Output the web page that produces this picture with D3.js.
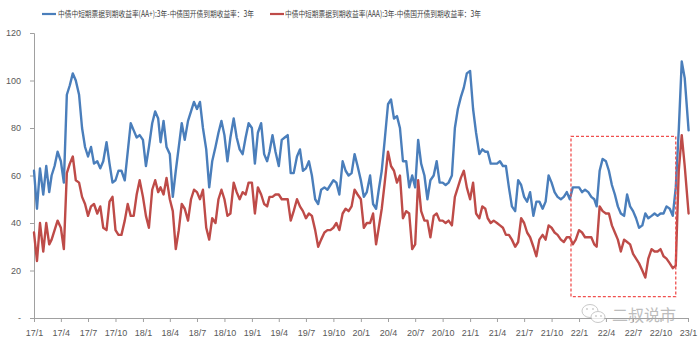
<!DOCTYPE html>
<html>
<head>
<meta charset="utf-8">
<script src="https://cdn.jsdelivr.net/npm/d3@7"></script>
<style>
  html, body { margin: 0; padding: 0; background: #fff; }
  svg { display: block; }
</style>
</head>
<body>
<svg id="chart" width="700" height="343"></svg>
<script>
// Spreads (bp): medium-term note 3Y yield minus CDB 3Y yield, sampled on days 1, 11, 21 of each month
const sampleDays = [1, 11, 21];
const firstYear = 2017;

const seriesNames = [
  "中债中短期票据到期收益率(AA+):3年-中债国开债到期收益率：3年",
  "中债中短期票据到期收益率(AAA):3年-中债国开债到期收益率：3年"
];

const spreadAAplus = [
  // 2017
  62,46,63, 52,64,53, 60,64,70, 66,57,94, 98,103,100, 94,80,72, 68,72,65, 66,63,66, 74,65,57, 58,62,62, 58,70,82, 79,76,77,
  // 2018
  75,64,72, 82,87,84, 74,83,72, 69,51,62, 72,82,75, 83,87,91, 88,91,80, 71,55,66, 72,78,83, 77,66,76, 84,76,71, 69,76,82,
  // 2019
  80,65,78, 82,69,66, 70,77,70, 64,75,76, 77,61,61, 68,71,62, 63,66,60, 50,48,54, 55,54,56, 58,57,52, 66,62,60, 61,69,64,
  // 2020
  58,51,53, 60,48,46, 54,62,75, 90,92,84, 85,80,66, 66,55,60, 55,75,65, 60,50,58, 60,66,57, 57,56,57, 60,80,88, 93,97,103,
  // 2021
  104,88,78, 69,71,70, 70,65,65, 65,66,64, 64,55,47, 45,58,56, 51,49,53, 43,49,49, 46,49,60, 57,53,51, 50,51,53, 50,55,55,
  // 2022
  55,53,54, 53,51,50, 47,62,67, 66,62,56, 52,47,44, 43,52,47, 45,42,38, 39,44,42, 43,44,43, 44,44,47, 46,43,55, 79,108,101
];

const spreadAAA = [
  // 2017
  36,24,40, 28,40,31, 33,37,41, 38,29,61, 65,68,58, 57,51,48, 43,47,48, 44,47,38, 37,49,51, 37,35,35, 41,48,43, 43,52,58,
  // 2018
  51,43,38, 54,58,53, 55,52,59, 50,45,29, 37,48,46, 41,50,54, 53,50,54, 38,33,42, 40,50,54, 50,43,44, 57,53,50, 53,52,57,
  // 2019
  57,44,55, 52,48,47, 51,51,52, 52,50,50, 50,41,45, 50,47,45, 42,44,43, 37,30,33, 36,37,37, 38,40,37, 44,46,45, 47,54,52,
  // 2020
  50,38,40, 40,44,31, 38,46,57, 70,64,62, 57,60,42, 45,44,29, 31,58,45, 41,41,34, 43,44,41, 41,40,41, 39,51,55, 59,62,55,
  // 2021
  50,57,44, 42,47,46, 42,40,41, 40,39,38, 35,35,33, 30,32,42, 40,36,34, 30,26,33, 35,33,39, 38,36,35, 33,32,34, 34,31,33,
  // 2022
  37,36,34, 34,34,31, 30,47,45, 44,44,39, 36,33,28, 33,32,31, 27,25,23, 20,17,25, 29,28,28, 29,26,25, 23,21,22, 62,77,64
];

// Last observation (early January 2023)
const lastDate = "2023-01-03";
const lastAAplus = 79;
const lastAAA = 44;

const yTicks = [0, 20, 40, 60, 80, 100, 120];
const xTickLabels = ["17/1","17/4","17/7","17/10","18/1","18/4","18/7","18/10","19/1","19/4","19/7","19/10",
                     "20/1","20/4","20/7","20/10","21/1","21/4","21/7","21/10","22/1","22/4","22/7","22/10","23/1"];

// Highlighted window: Dec 2021 – Nov 2022
const focusWindow = { from: "2021-12-05", to: "2022-11-21", low: 9, high: 76.5 };

const watermarkText = "二叔说市";

// ---------- build series ----------
const parseDate = d3.timeParse("%Y-%m-%d");
function sampleDate(i) {
  const m = Math.floor(i / 3);
  return new Date(firstYear + Math.floor(m / 12), m % 12, sampleDays[i % 3]);
}
function buildSeries(values, lastValue) {
  const pts = values.map((v, i) => ({ date: sampleDate(i), value: v }));
  pts.push({ date: parseDate(lastDate), value: lastValue });
  return pts;
}
const series = [
  { name: seriesNames[0], color: "#4a7ebb", points: buildSeries(spreadAAplus, lastAAplus) },
  { name: seriesNames[1], color: "#be4b48", points: buildSeries(spreadAAA, lastAAA) }
];
const tickDates = xTickLabels.map(s => {
  const [yy, mm] = s.split("/").map(Number);
  return new Date(2000 + yy, mm - 1, 1);
});

// ---------- layout ----------
const svg = d3.select("#chart");
const plotLeft = 34, plotRight = 688, plotTop = 33, plotBottom = 318;

const x = d3.scaleTime()
  .domain([tickDates[0], tickDates[tickDates.length - 1]])
  .range([plotLeft, plotRight]);
const y = d3.scaleLinear().domain([0, 120]).range([plotBottom, plotTop]);

const axisColor = "#a0a0a0";
const labelColor = "#595959";

// y axis
const yAxis = svg.append("g")
  .attr("transform", `translate(${plotLeft},0)`)
  .call(d3.axisLeft(y).tickValues(yTicks).tickSize(4).tickPadding(9)
    .tickFormat(d => d === 0 ? "-" : d));
yAxis.select(".domain").attr("stroke", axisColor);
yAxis.selectAll(".tick line").attr("stroke", axisColor);
yAxis.selectAll(".tick text")
  .attr("fill", labelColor)
  .style("font-family", "'Liberation Sans', Arial, sans-serif")
  .style("font-size", "9px");

// x axis
const xAxis = svg.append("g")
  .attr("transform", `translate(0,${plotBottom})`)
  .call(d3.axisBottom(x).tickValues(tickDates).tickSize(4).tickPadding(8)
    .tickFormat((d, i) => xTickLabels[i]));
xAxis.select(".domain").attr("stroke", axisColor).attr("d", `M${plotLeft},0.5H${plotRight}`);
xAxis.selectAll(".tick line").attr("stroke", axisColor);
xAxis.selectAll(".tick text")
  .attr("fill", labelColor)
  .style("font-family", "'Liberation Sans', Arial, sans-serif")
  .style("font-size", "9px");

// lines
const line = d3.line()
  .x(d => x(d.date))
  .y(d => y(d.value));

svg.append("g").selectAll("path")
  .data(series)
  .join("path")
  .attr("d", d => line(d.points))
  .attr("fill", "none")
  .attr("stroke", d => d.color)
  .attr("stroke-width", 2.4)
  .attr("stroke-linejoin", "round")
  .attr("stroke-linecap", "round");

// highlighted window
const fx0 = x(parseDate(focusWindow.from)), fx1 = x(parseDate(focusWindow.to));
const fy0 = y(focusWindow.high), fy1 = y(focusWindow.low);
svg.append("rect")
  .attr("x", fx0).attr("y", fy0)
  .attr("width", fx1 - fx0).attr("height", fy1 - fy0)
  .attr("fill", "none")
  .attr("stroke", "#f0504f")
  .attr("stroke-width", 1.3)
  .attr("stroke-dasharray", "3,2");

// legend
const legendPos = [
  { lineX: 42, textX: 58 },
  { lineX: 270, textX: 285 }
];
const lg = svg.append("g");
series.forEach((s, i) => {
  lg.append("line")
    .attr("x1", legendPos[i].lineX).attr("x2", legendPos[i].lineX + 14)
    .attr("y1", 14).attr("y2", 14)
    .attr("stroke", s.color).attr("stroke-width", 2.2);
  lg.append("text")
    .attr("x", legendPos[i].textX).attr("y", 17)
    .attr("textLength", 196)
    .attr("lengthAdjust", "spacingAndGlyphs")
    .attr("fill", "#404040")
    .style("font-family", "'Noto Sans CJK SC', sans-serif")
    .style("font-size", "8.5px")
    .text(s.name);
});

// watermark
const wm = svg.append("g").attr("opacity", 0.75);
wm.append("ellipse").attr("cx", 590).attr("cy", 311).attr("rx", 8).attr("ry", 6.5)
  .attr("fill", "#fff").attr("stroke", "#b8b8b8").attr("stroke-width", 1);
wm.append("ellipse").attr("cx", 598).attr("cy", 317).attr("rx", 7).attr("ry", 5.5)
  .attr("fill", "#fff").attr("stroke", "#b8b8b8").attr("stroke-width", 1);
[[587, 309], [593, 309], [596, 316], [601, 316]].forEach(([cx, cy]) =>
  wm.append("circle").attr("cx", cx).attr("cy", cy).attr("r", 0.9).attr("fill", "#b8b8b8"));
wm.append("text")
  .attr("x", 612).attr("y", 321)
  .attr("fill", "#a8a8a8")
  .style("font-family", "'Noto Sans CJK SC', sans-serif")
  .style("font-size", "16px")
  .text(watermarkText);
</script>
</body>
</html>
